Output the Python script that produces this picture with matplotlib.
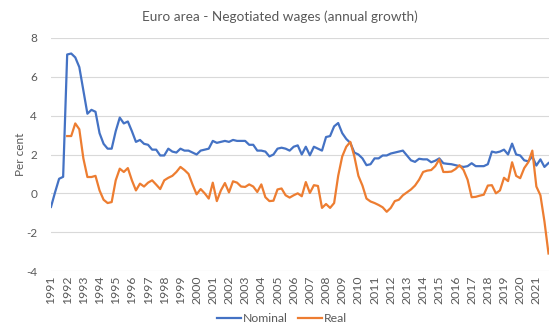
import matplotlib
matplotlib.use("Agg")
import matplotlib.pyplot as plt
import numpy as np

plt.rcParams['font.family'] = ['Lato', 'DejaVu Sans']

years = list(range(1991, 2022))
quarters = [f"{y}Q{q}" for y in years for q in range(1, 5)]

nominal = [
    -0.7, 0.05, 0.75, 0.85,            # 1991
    7.15, 7.2, 7.0, 6.5,               # 1992
    5.3, 4.1, 4.3, 4.2,                # 1993
    3.1, 2.55, 2.3, 2.3,               # 1994
    3.2, 3.9, 3.6, 3.7,                # 1995
    3.2, 2.65, 2.75, 2.55,             # 1996
    2.5, 2.25, 2.25, 1.95,             # 1997
    1.95, 2.3, 2.15, 2.1,              # 1998
    2.3, 2.2, 2.2, 2.1,                # 1999
    2.0, 2.2, 2.25, 2.3,               # 2000
    2.7, 2.6, 2.65, 2.7,               # 2001
    2.65, 2.75, 2.7, 2.7,              # 2002
    2.7, 2.5, 2.5, 2.2,                # 2003
    2.2, 2.15, 1.9, 2.0,               # 2004
    2.3, 2.35, 2.3, 2.2,               # 2005
    2.4, 2.47, 2.0, 2.4,               # 2006
    1.96, 2.4, 2.3, 2.2,               # 2007
    2.9, 2.95, 3.45, 3.62,             # 2008
    3.1, 2.8, 2.6, 2.1,                # 2009
    2.0, 1.8, 1.45, 1.5,               # 2010
    1.8, 1.8, 1.95, 1.95,              # 2011
    2.05, 2.1, 2.15, 2.2,              # 2012
    1.95, 1.7, 1.62, 1.78,             # 2013
    1.75, 1.75, 1.6, 1.68,             # 2014
    1.8, 1.55, 1.52, 1.5,              # 2015
    1.45, 1.4, 1.36, 1.4,              # 2016
    1.55, 1.4, 1.4, 1.4,               # 2017
    1.5, 2.15, 2.1, 2.15,              # 2018
    2.25, 2.0, 2.56, 2.0,              # 2019
    1.95, 1.7, 1.65, 1.9,              # 2020
    1.43, 1.75, 1.36, 1.56,            # 2021
]

real = [
    np.nan, np.nan, np.nan, np.nan,    # 1991
    2.95, 2.95, 3.6, 3.3,              # 1992
    1.8, 0.84, 0.84, 0.9,              # 1993
    0.15, -0.33, -0.5, -0.45,          # 1994
    0.67, 1.27, 1.1, 1.3,              # 1995
    0.67, 0.15, 0.5, 0.35,             # 1996
    0.55, 0.67, 0.45, 0.22,            # 1997
    0.67, 0.8, 0.9, 1.1,               # 1998
    1.36, 1.2, 1.0, 0.45,              # 1999
    -0.05, 0.22, 0.0, -0.27,           # 2000
    0.55, -0.4, 0.15, 0.53,            # 2001
    0.05, 0.62, 0.55, 0.35,            # 2002
    0.33, 0.46, 0.35, 0.07,            # 2003
    0.46, -0.2, -0.4, -0.38,           # 2004
    0.2, 0.25, -0.1, -0.22,            # 2005
    -0.1, 0.0, -0.15, 0.58,            # 2006
    0.02, 0.42, 0.38, -0.75,           # 2007
    -0.55, -0.75, -0.5, 0.9,           # 2008
    1.9, 2.4, 2.65, 1.9,               # 2009
    0.9, 0.4, -0.27, -0.42,            # 2010
    -0.5, -0.6, -0.72, -0.95,          # 2011
    -0.75, -0.4, -0.33, -0.1,          # 2012
    0.05, 0.2, 0.4, 0.7,               # 2013
    1.1, 1.17, 1.2, 1.4,               # 2014
    1.75, 1.1, 1.1, 1.12,              # 2015
    1.25, 1.45, 1.2, 0.7,              # 2016
    -0.2, -0.18, -0.12, -0.07,         # 2017
    0.4, 0.42, 0.0, 0.15,              # 2018
    0.8, 0.63, 1.6, 0.9,               # 2019
    0.78, 1.3, 1.6, 2.2,               # 2020
    0.35, -0.1, -1.45, -3.1,           # 2021
]

y_ticks = [-4, -2, 0, 2, 4, 6, 8]

fig = plt.figure(figsize=(5.6, 3.36), dpi=100)
ax = fig.add_axes([51/560, 1 - 271/336, (548.5 - 51)/560, (271 - 38)/336])

x = np.arange(len(quarters))
blue = '#4472C4'
orange = '#ED7D31'
ax.plot(x, nominal, color=blue, lw=1.6, label='Nominal', solid_joinstyle='round')
ax.plot(x, real, color=orange, lw=1.6, label='Real', solid_joinstyle='round')

ax.set_xlim(0, len(quarters) - 1)
ax.set_ylim(-4, 8)
ax.set_yticks(y_ticks)
ax.set_yticklabels([str(v) for v in y_ticks], fontsize=8.5, color='#595959')
ax.set_xticks(x[::4])
ax.set_xticklabels([str(y) for y in years], rotation=90, fontsize=8.8, color='#595959')
ax.tick_params(axis='both', length=0)
ax.tick_params(axis='y', pad=10)
ax.tick_params(axis='x', pad=3)
ax.grid(axis='y', color='#D9D9D9', lw=0.8)
ax.set_axisbelow(True)
for s in ax.spines.values():
    s.set_visible(False)

fig.text(20/560, 1 - 154/336, 'Per cent', rotation=90, ha='center', va='center',
         fontsize=8.5, color='#595959')
fig.text(0.5, 1 - 17/336, 'Euro area - Negotiated wages (annual growth)',
         ha='center', va='center', fontsize=9.8, color='#595959')

leg = fig.legend(loc='center', bbox_to_anchor=(282/560, 1 - 319/336), ncol=2,
                 frameon=False, fontsize=8.8, handlelength=2.0, handletextpad=0.15,
                 columnspacing=0.8)
for t in leg.get_texts():
    t.set_color('#595959')

fig.savefig('out.png', dpi=100)
